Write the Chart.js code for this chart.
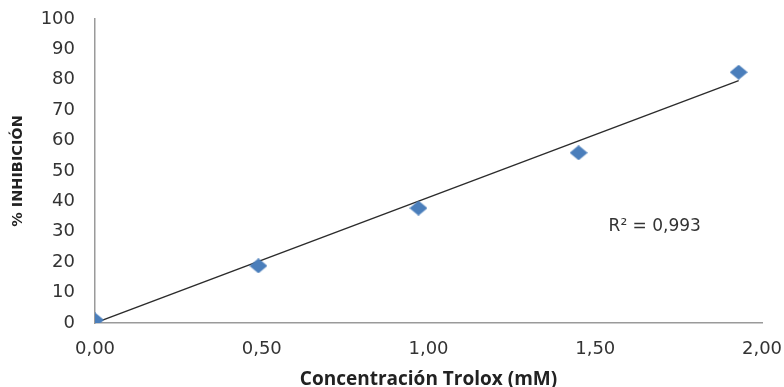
<!DOCTYPE html>
<html>
<head>
<meta charset="utf-8">
<script src="https://cdn.jsdelivr.net/npm/chart.js@4"></script>
<style>
  html, body { margin: 0; padding: 0; background: #fff; }
  #wrap { width: 784px; height: 387px; position: relative; }
</style>
</head>
<body>
<div id="wrap"><canvas id="c" width="784" height="387"></canvas></div>
<script>
// Trolox concentration (mM) and measured % inhibition
const concentracion = [0.00, 0.49, 0.97, 1.45, 1.93];
const inhibicion = [1.0, 18.8, 37.8, 56.0, 82.5];

// Linear trend line (through the origin), endpoints
const tendenciaX = [0.00, 1.93];
const tendenciaY = [0.0, 79.7];

// Axis ticks
const xTicks = [0, 0.5, 1, 1.5, 2];
const yTicks = [0, 10, 20, 30, 40, 50, 60, 70, 80, 90, 100];

const r2Text = 'R² = 0,993';
const r2Pos = { x: 1.54, y: 32 };

// Diamond marker, slightly wider than tall
function diamond(w, h, color) {
  const cv = document.createElement('canvas');
  cv.width = w; cv.height = h;
  const g = cv.getContext('2d');
  g.fillStyle = color;
  g.beginPath();
  g.moveTo(w / 2, 0);
  g.lineTo(w, h / 2);
  g.lineTo(w / 2, h);
  g.lineTo(0, h / 2);
  g.closePath();
  g.fill();
  return cv;
}

const r2Label = {
  id: 'r2Label',
  afterDatasetsDraw(chart) {
    const ctx = chart.ctx;
    const x = chart.scales.x.getPixelForValue(r2Pos.x);
    const y = chart.scales.y.getPixelForValue(r2Pos.y);
    ctx.save();
    ctx.font = '17px "DejaVu Sans", sans-serif';
    ctx.fillStyle = '#333333';
    ctx.textAlign = 'left';
    ctx.textBaseline = 'middle';
    ctx.fillText(r2Text, x, y + 1);
    ctx.restore();
  }
};

const tickFont = { family: '"DejaVu Sans", Verdana, sans-serif', size: 18 };

new Chart(document.getElementById('c'), {
  type: 'scatter',
  data: {
    datasets: [
      {
        label: 'Tendencia',
        type: 'line',
        data: tendenciaX.map((x, i) => ({ x, y: tendenciaY[i] })),
        borderColor: '#2b2b2b',
        borderWidth: 1.3,
        pointRadius: 0,
        fill: false,
        order: 2
      },
      {
        label: '% Inhibición',
        data: concentracion.map((x, i) => ({ x, y: inhibicion[i] })),
        pointStyle: diamond(18, 15, '#4a7ebb'),
        pointRadius: 9,
        order: 1
      }
    ]
  },
  options: {
    responsive: false,
    animation: false,
    events: [],
    layout: { padding: { top: 19, right: 22, left: 0, bottom: 0 } },
    plugins: {
      legend: { display: false },
      tooltip: { enabled: false }
    },
    scales: {
      x: {
        type: 'linear',
        min: 0,
        max: 2,
        afterBuildTicks(scale) { scale.ticks = xTicks.map(v => ({ value: v })); },
        afterFit(scale) {
          scale.height = 64;
          scale.paddingLeft = 0;
          scale.paddingRight = 0;
        },
        grid: { display: false, drawTicks: false },
        border: { display: true, color: '#9a9a9a', width: 1.5 },
        ticks: {
          padding: 16,
          color: '#333333',
          font: tickFont,
          maxRotation: 0,
          callback: v => v.toFixed(2).replace('.', ',')
        },
        title: {
          display: true,
          text: 'Concentración Trolox (mM)',
          color: '#222222',
          font: { family: '"Open Sans", sans-serif', size: 19, weight: 'bold', lineHeight: 0.8 },
          padding: { top: 0, bottom: 0 }
        }
      },
      y: {
        type: 'linear',
        min: 0,
        max: 100,
        afterBuildTicks(scale) { scale.ticks = yTicks.map(v => ({ value: v })); },
        afterFit(scale) {
          scale.width = 95;
          scale.paddingTop = 0;
          scale.paddingBottom = 0;
        },
        grid: { display: false, drawTicks: false },
        border: { display: true, color: '#9a9a9a', width: 1.5 },
        ticks: {
          padding: 20,
          color: '#333333',
          font: tickFont,
          callback: v => String(v)
        },
        title: {
          display: true,
          text: '% INHIBICIÓN',
          color: '#222222',
          font: { family: '"DejaVu Sans", sans-serif', size: 14.5, weight: 'bold' },
          padding: { top: 10, bottom: 0 }
        }
      }
    }
  },
  plugins: [r2Label]
});
</script>
</body>
</html>
